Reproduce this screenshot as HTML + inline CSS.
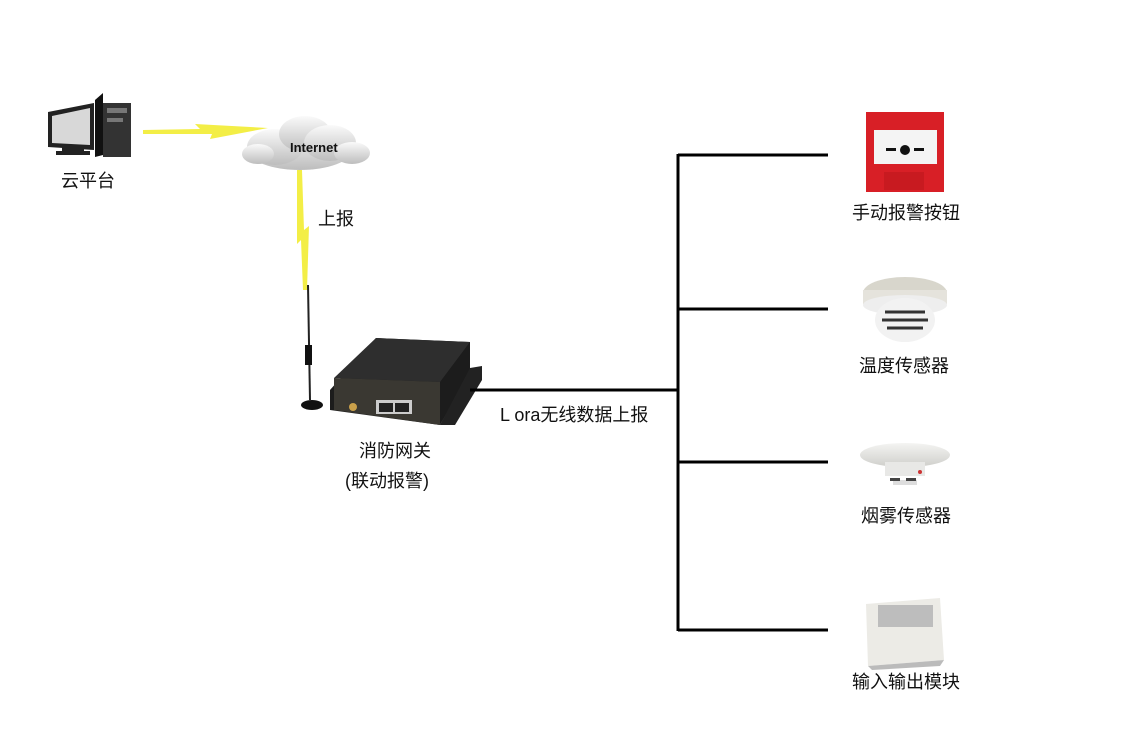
<!DOCTYPE html>
<html><head><meta charset="utf-8"><style>
html,body{margin:0;padding:0;background:#fff;}
svg text{font-family:"Liberation Sans","Noto Sans CJK SC",sans-serif;fill:#111;}
</style></head><body>
<svg width="1125" height="750" viewBox="0 0 1125 750" xmlns="http://www.w3.org/2000/svg">
<defs>
<linearGradient id="cl" x1="0" y1="0" x2="0" y2="1"><stop offset="0" stop-color="#fafafa"/><stop offset="1" stop-color="#bdbdbd"/></linearGradient>
<linearGradient id="dt" x1="0" y1="0" x2="0" y2="1"><stop offset="0" stop-color="#f4f4f2"/><stop offset="1" stop-color="#cfcfcb"/></linearGradient>
</defs>
<path d="M48 112 L94 103 L94 150 L48 147 Z" fill="#222"/>
<path d="M52 116 L90 108 L90 145 L52 143 Z" fill="#d8d8d8"/>
<rect x="62" y="147" width="22" height="4" fill="#222"/>
<rect x="56" y="151" width="34" height="4" fill="#222"/>
<path d="M95 100 L103 93 L103 155 L95 157 Z" fill="#111"/>
<rect x="103" y="103" width="28" height="54" fill="#333"/>
<rect x="107" y="108" width="20" height="5" fill="#777"/>
<rect x="107" y="118" width="16" height="4" fill="#777"/>
<polygon points="143,130 200,129 195,124 268,128 210,139 212,134 143,134" fill="#f3ee46"/>
<g fill="url(#cl)">
<ellipse cx="300" cy="150" rx="52" ry="20"/>
<ellipse cx="275" cy="147" rx="28" ry="18"/>
<ellipse cx="305" cy="134" rx="26" ry="18"/>
<ellipse cx="330" cy="143" rx="26" ry="18"/>
<ellipse cx="352" cy="153" rx="18" ry="11"/>
<ellipse cx="258" cy="154" rx="16" ry="10"/>
</g>
<text x="290" y="152" font-size="13" font-weight="bold" fill="#333">Internet</text>
<polygon points="297,170 302,170 304,230 309,226 307,290 303,290 301,240 297,244" fill="#f3ee46"/>
<text x="318" y="225" font-size="18">上报</text>
<text x="61" y="187" font-size="18">云平台</text>
<line x1="308" y1="285" x2="310" y2="400" stroke="#222" stroke-width="2"/>
<rect x="305" y="345" width="7" height="20" fill="#111"/>
<ellipse cx="312" cy="405" rx="11" ry="5" fill="#111"/>
<polygon points="330,390 376,338 470,342 470,372 440,425 330,410" fill="#1c1c1c"/>
<polygon points="376,338 470,342 440,382 334,378" fill="#2e2e2e"/>
<polygon points="334,378 440,382 440,425 334,410" fill="#3a3832"/>
<rect x="376" y="400" width="36" height="14" fill="#ccc"/>
<rect x="379" y="403" width="14" height="9" fill="#222"/><rect x="395" y="403" width="14" height="9" fill="#222"/>
<circle cx="353" cy="407" r="4" fill="#c9a04a"/>
<polygon points="470,368 482,366 482,380 455,425 440,425" fill="#222"/>
<g stroke="#000" stroke-width="3" fill="none">
<line x1="470" y1="390" x2="679" y2="390"/>
<line x1="678" y1="154" x2="678" y2="631"/>
<line x1="678" y1="155" x2="828" y2="155"/>
<line x1="678" y1="309" x2="828" y2="309"/>
<line x1="678" y1="462" x2="828" y2="462"/>
<line x1="678" y1="630" x2="828" y2="630"/>
</g>
<text x="500" y="421" font-size="18">L ora无线数据上报</text>
<text x="359" y="457" font-size="18">消防网关</text>
<text x="345" y="487" font-size="18">(联动报警)</text>
<rect x="866" y="112" width="78" height="80" fill="#d81f26"/>
<rect x="874" y="130" width="63" height="34" fill="#f4f4f4"/>
<circle cx="905" cy="150" r="5" fill="#111"/>
<rect x="886" y="148" width="10" height="3" fill="#111"/><rect x="914" y="148" width="10" height="3" fill="#111"/>
<rect x="884" y="172" width="40" height="18" fill="#c81a20"/>
<text x="852" y="219" font-size="18">手动报警按钮</text>
<ellipse cx="905" cy="293" rx="42" ry="16" fill="#d8d6cc"/>
<rect x="863" y="290" width="84" height="14" fill="#e5e3dc"/>
<ellipse cx="905" cy="305" rx="42" ry="10" fill="#eee"/>
<ellipse cx="905" cy="320" rx="30" ry="22" fill="#f2f2f2"/>
<g stroke="#333" stroke-width="3"><line x1="885" y1="312" x2="925" y2="312"/><line x1="882" y1="320" x2="928" y2="320"/><line x1="887" y1="328" x2="923" y2="328"/></g>
<text x="859" y="372" font-size="18">温度传感器</text>
<ellipse cx="905" cy="455" rx="45" ry="12" fill="url(#dt)"/>
<rect x="885" y="462" width="40" height="14" fill="#e8e8e6"/>
<rect x="893" y="480" width="24" height="5" fill="#ddd"/>
<rect x="890" y="478" width="10" height="3" fill="#444"/><rect x="906" y="478" width="10" height="3" fill="#444"/>
<circle cx="920" cy="472" r="2" fill="#c33"/>
<text x="861" y="522" font-size="18">烟雾传感器</text>
<polygon points="866,604 940,598 944,660 868,666" fill="#ecebe6"/>
<rect x="878" y="605" width="55" height="22" fill="#bdbdbd"/>
<polygon points="868,666 944,660 940,666 872,670" fill="#bbb"/>
<text x="852" y="688" font-size="18">输入输出模块</text>
</svg>
</body></html>
